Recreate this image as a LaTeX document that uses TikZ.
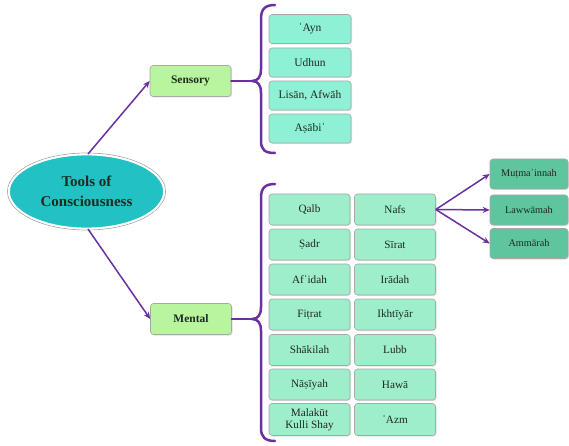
\documentclass[tikz,border=0pt]{standalone}
\usepackage{fontspec}
\setmainfont{Liberation Serif}
\usetikzlibrary{arrows.meta,shadows,shapes.geometric}
\definecolor{purp}{HTML}{6A2FA0}
\definecolor{catfill}{HTML}{B8F59E}
\definecolor{sensfill}{HTML}{8EF1D6}
\definecolor{mentfill}{HTML}{9EEDCB}
\definecolor{subfill}{HTML}{5EC59E}
\definecolor{ellfill}{HTML}{22C1C3}
\definecolor{boxline}{HTML}{A8A8A8}
\definecolor{txt}{HTML}{1E2A22}
\tikzset{
  base/.style={rounded corners=3pt, draw=boxline, line width=0.6pt, align=center, text=txt,
    inner sep=0pt, drop shadow={opacity=0.25, shadow xshift=1pt, shadow yshift=-1pt}},
  catbox/.style={base, fill=catfill, minimum width=81pt, minimum height=31pt, font=\fontsize{11.5}{13}\selectfont\bfseries},
  sensbox/.style={base, fill=sensfill, minimum width=82pt, minimum height=29pt, font=\fontsize{11.5}{12}\selectfont},
  mentbox/.style={base, fill=mentfill, minimum width=81pt, minimum height=31pt, font=\fontsize{11.2}{12}\selectfont},
  subbox/.style={base, fill=subfill, minimum width=78pt, minimum height=30pt, font=\fontsize{10.2}{12}\selectfont},
  conn/.style={purp, line width=1.5pt, -{Stealth[length=7pt,width=6pt]}},
  bracepath/.style={purp, line width=2.5pt, line cap=round, line join=round},
}
\begin{document}
\begin{tikzpicture}[x=1pt,y=-1pt]
\useasboundingbox (0,0) rectangle (569,446);
% central ellipse
\draw[gray!70, line width=0.7pt] (86.5,191.5) ellipse [x radius=79, y radius=38.5];
\node[ellipse, fill=ellfill, draw=white, line width=1.8pt, minimum width=155pt, minimum height=74pt,
  inner sep=0pt, align=center, text=txt, font=\fontsize{15}{20}\selectfont\bfseries] (root) at (86.5,191.5)
  {Tools of\\Consciousness};
% categories
\node[catbox] (sens) at (190.5,81) {Sensory};
\node[catbox] (ment) at (191,319) {Mental};
\coordinate (rt) at (88,154);
\coordinate (rb) at (88,229);
\draw[conn] (rt) -- (sens.west);
\draw[conn] (rb) -- (ment.west);
% sensory items
\node[sensbox] (s1) at (310,29) {ʿAyn};
\node[sensbox] (s2) at (310,62.5) {Udhun};
\node[sensbox] (s3) at (310,95.5) {Lisān, Afwāh};
\node[sensbox] (s4) at (310,128.5) {Aṣābiʿ};
% sensory brace
\coordinate (sb) at (252,81);
\draw[bracepath] (275,5) .. controls (265,5) and (261,9) .. (261,19) -- (261,69)
  .. controls (261,77) and (258,81) .. (sb)
  .. controls (258,81) and (261,85) .. (261,93) -- (261,141)
  .. controls (261,150) and (265,153) .. (275,153);
\draw[bracepath] (sens.east) -- (sb);
% mental brace
\coordinate (mb) at (252,319);
\draw[bracepath] (275,184) .. controls (265,184) and (261,188) .. (261,198) -- (261,307)
  .. controls (261,315) and (258,319) .. (mb)
  .. controls (258,319) and (261,323) .. (261,331) -- (261,428)
  .. controls (261,437) and (265,441) .. (275,441);
\draw[bracepath] (ment.east) -- (mb);
% mental items, left column
\node[mentbox] (m1) at (309.5,209.5) {Qalb};
\node[mentbox] (m2) at (309.5,244.5) {Ṣadr};
\node[mentbox] (m3) at (309.5,279.5) {Afʾidah};
\node[mentbox] (m4) at (309.5,314.5) {Fiṭrat};
\node[mentbox] (m5) at (309.5,350) {Shākilah};
\node[mentbox] (m6) at (309.5,384.5) {Nāṣīyah};
\node[mentbox, minimum height=32pt, font=\fontsize{11.2}{12}\selectfont] (m7) at (309.5,419.5) {Malakūt\\Kulli Shay};
% mental items, right column
\node[mentbox] (n1) at (395,209.5) {Nafs};
\node[mentbox] (n2) at (395,244.5) {Sīrat};
\node[mentbox] (n3) at (395,279.5) {Irādah};
\node[mentbox] (n4) at (395,314.5) {Ikhtīyār};
\node[mentbox] (n5) at (395,350) {Lubb};
\node[mentbox] (n6) at (395,384.5) {Hawā};
\node[mentbox, minimum height=32pt] (n7) at (395,419.5) {ʿAzm};
% nafs sub boxes
\node[subbox] (t1) at (529,174) {Muṭmaʾinnah};
\node[subbox] (t2) at (529,210) {Lawwāmah};
\node[subbox] (t3) at (529,243.5) {Ammārah};
\draw[conn] (n1.east) -- (t1.west);
\draw[conn] (n1.east) -- (t2.west);
\draw[conn] (n1.east) -- (t3.west);
\end{tikzpicture}
\end{document}
